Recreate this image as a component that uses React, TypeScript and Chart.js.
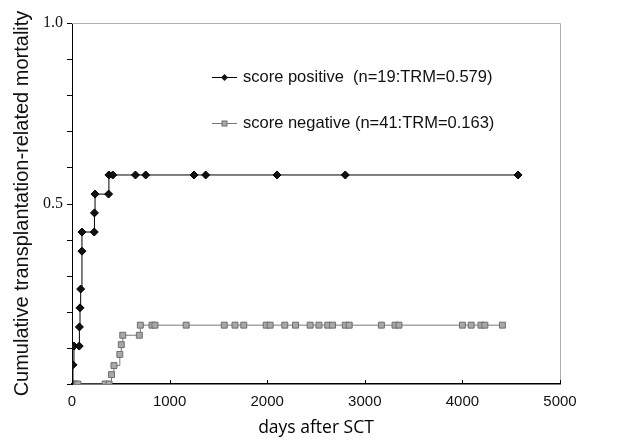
import React, { useEffect, useRef } from "react";
import { Chart, registerables } from "chart.js";

Chart.register(...registerables);

// Days after SCT and cumulative TRM for the score-positive group (n=19)
const positiveDays = [0, 10, 20, 74, 76, 82, 89, 102, 102, 228, 230, 236, 375, 378, 418, 650, 755, 1250, 1370, 2100, 2800, 4570];
const positiveTRM = [0, 0.053, 0.105, 0.105, 0.158, 0.211, 0.263, 0.368, 0.421, 0.421, 0.474, 0.526, 0.526, 0.579, 0.579, 0.579, 0.579, 0.579, 0.579, 0.579, 0.579, 0.579];

// Days after SCT and cumulative TRM for the score-negative group (n=41)
const negativeDays = [0, 30, 60, 340, 380, 405, 430, 490, 505, 520, 690, 700, 820, 850, 1170, 1560, 1670, 1760, 1990, 2030, 2180, 2290, 2440, 2530, 2620, 2670, 2800, 2840, 3170, 3310, 3350, 4000, 4090, 4190, 4230, 4410];
const negativeTRM = [0, 0, 0, 0, 0, 0.026, 0.051, 0.082, 0.109, 0.135, 0.135, 0.163, 0.163, 0.163, 0.163, 0.163, 0.163, 0.163, 0.163, 0.163, 0.163, 0.163, 0.163, 0.163, 0.163, 0.163, 0.163, 0.163, 0.163, 0.163, 0.163, 0.163, 0.163, 0.163, 0.163, 0.163];

const xTickValues = [0, 1000, 2000, 3000, 4000, 5000];
const yLabelled = [0.5, 1.0];

const legendLabels = [
  "score positive  (n=19:TRM=0.579)",
  "score negative (n=41:TRM=0.163)",
];

const toPoints = (xs: number[], ys: number[]) => xs.map((x, i) => ({ x, y: ys[i] }));

function drawDiamond(ctx: CanvasRenderingContext2D, x: number, y: number, r: number) {
  ctx.beginPath();
  ctx.moveTo(x - r, y);
  ctx.lineTo(x, y - r);
  ctx.lineTo(x + r, y);
  ctx.lineTo(x, y + r);
  ctx.closePath();
  ctx.fillStyle = "#111";
  ctx.fill();
}

function drawSquare(ctx: CanvasRenderingContext2D, x: number, y: number, s: number) {
  ctx.fillStyle = "#a8a8a8";
  ctx.fillRect(x - s / 2, y - s / 2, s, s);
  ctx.strokeStyle = "#6e6e6e";
  ctx.lineWidth = 1;
  ctx.strokeRect(x - s / 2, y - s / 2, s, s);
}

const framePlugin = {
  id: "frameAndLegend",
  afterDraw(chart: any) {
    const { ctx, chartArea, scales } = chart;
    const { left, right, top, bottom } = chartArea;
    ctx.save();
    // light frame on top and right
    ctx.strokeStyle = "#b0b0b0";
    ctx.lineWidth = 1;
    ctx.beginPath();
    ctx.moveTo(left, top + 0.5);
    ctx.lineTo(right + 0.5, top + 0.5);
    ctx.lineTo(right + 0.5, bottom);
    ctx.stroke();

    // inward tick marks on the x axis
    ctx.strokeStyle = "#000";
    ctx.beginPath();
    xTickValues.forEach((v) => {
      const px = Math.round(scales.x.getPixelForValue(v)) + 0.5;
      ctx.moveTo(px, bottom);
      ctx.lineTo(px, bottom - 4);
    });
    ctx.stroke();

    // outward tick marks on the y axis, every 0.1
    ctx.beginPath();
    for (let i = 0; i <= 10; i++) {
      const py = Math.round(scales.y.getPixelForValue(i / 10)) + 0.5;
      ctx.moveTo(left, py);
      ctx.lineTo(left - 5, py);
    }
    ctx.stroke();

    // legend
    const lx0 = 212;
    const lx1 = 237;
    const tx = 243;
    const rows = [77, 123];
    ctx.font = '16.5px "Liberation Sans", Arial, sans-serif';
    ctx.textBaseline = "middle";
    ctx.textAlign = "left";

    ctx.strokeStyle = "#000";
    ctx.lineWidth = 1;
    ctx.beginPath();
    ctx.moveTo(lx0, rows[0] + 0.5);
    ctx.lineTo(lx1, rows[0] + 0.5);
    ctx.stroke();
    drawDiamond(ctx, (lx0 + lx1) / 2, rows[0] + 0.5, 3.5);
    ctx.fillStyle = "#111";
    ctx.fillText(legendLabels[0], tx, rows[0]);

    ctx.strokeStyle = "#777";
    ctx.beginPath();
    ctx.moveTo(lx0, rows[1] + 0.5);
    ctx.lineTo(lx1, rows[1] + 0.5);
    ctx.stroke();
    drawSquare(ctx, (lx0 + lx1) / 2, rows[1] + 0.5, 5);
    ctx.fillStyle = "#111";
    ctx.fillText(legendLabels[1], tx, rows[1]);
    ctx.restore();
  },
};

export default function App() {
  const canvasRef = useRef<HTMLCanvasElement | null>(null);

  useEffect(() => {
    if (!canvasRef.current) return;
    const chart = new Chart(canvasRef.current, {
      type: "line",
      data: {
        datasets: [
          {
            label: legendLabels[0],
            data: toPoints(positiveDays, positiveTRM),
            stepped: "before",
            borderColor: "#000",
            borderWidth: 1,
            pointStyle: "rectRot",
            pointRadius: (c: any) => (c.dataIndex === 0 ? 0 : 4),
            pointBackgroundColor: "#111",
            pointBorderColor: "#000",
            pointBorderWidth: 1,
            fill: false,
          },
          {
            label: legendLabels[1],
            data: toPoints(negativeDays, negativeTRM),
            stepped: "before",
            borderColor: "#7a7a7a",
            borderWidth: 1,
            pointStyle: "rect",
            pointRadius: 4.2,
            pointBackgroundColor: "#a8a8a8",
            pointBorderColor: "#6e6e6e",
            pointBorderWidth: 1,
            fill: false,
          },
        ],
      },
      options: {
        responsive: false,
        animation: false,
        parsing: false as any,
        layout: { padding: { top: 23, right: 57, left: 0, bottom: 0 } },
        plugins: {
          legend: { display: false },
          tooltip: { enabled: false },
        },
        scales: {
          x: {
            type: "linear",
            min: 0,
            max: 5000,
            afterFit: (s: any) => {
              s.height = 60;
            },
            afterBuildTicks: (s: any) => {
              s.ticks = xTickValues.map((v) => ({ value: v }));
            },
            grid: { drawOnChartArea: false, drawTicks: false },
            border: { display: true, color: "#000", width: 1.5 },
            ticks: {
              padding: 9,
              color: "#111",
              maxRotation: 0,
              font: { family: '"Liberation Sans", Arial, sans-serif', size: 15 },
              callback: (v: any) => String(v),
            },
            title: {
              display: true,
              text: "days after SCT",
              color: "#000",
              font: { family: '"Open Sans", sans-serif', size: 17.5 },
              padding: { top: 0, bottom: 5 },
            },
          },
          y: {
            type: "linear",
            min: 0,
            max: 1,
            afterFit: (s: any) => {
              s.width = 72;
            },
            ticks: {
              stepSize: 0.1,
              padding: 9,
              color: "#111",
              font: { family: '"Liberation Serif", "Times New Roman", serif', size: 16 },
              callback: (v: any) => {
                const n = Number(v);
                const hit = yLabelled.find((t) => Math.abs(t - n) < 1e-6);
                return hit !== undefined ? hit.toFixed(1) : "";
              },
            },
            grid: { display: false, drawTicks: false },
            border: { display: true, color: "#000", width: 1 },
            title: {
              display: true,
              text: "Cumulative transplantation-related mortality",
              color: "#111",
              font: { family: '"Liberation Sans", Arial, sans-serif', size: 20 },
              padding: { top: 10, bottom: 0 },
            },
          },
        },
      },
      plugins: [framePlugin],
    } as any);
    return () => chart.destroy();
  }, []);

  return (
    <div style={{ position: "absolute", left: 0, top: 0, width: 617, height: 444, background: "#fff" }}>
      <canvas ref={canvasRef} width={617} height={444} />
    </div>
  );
}
